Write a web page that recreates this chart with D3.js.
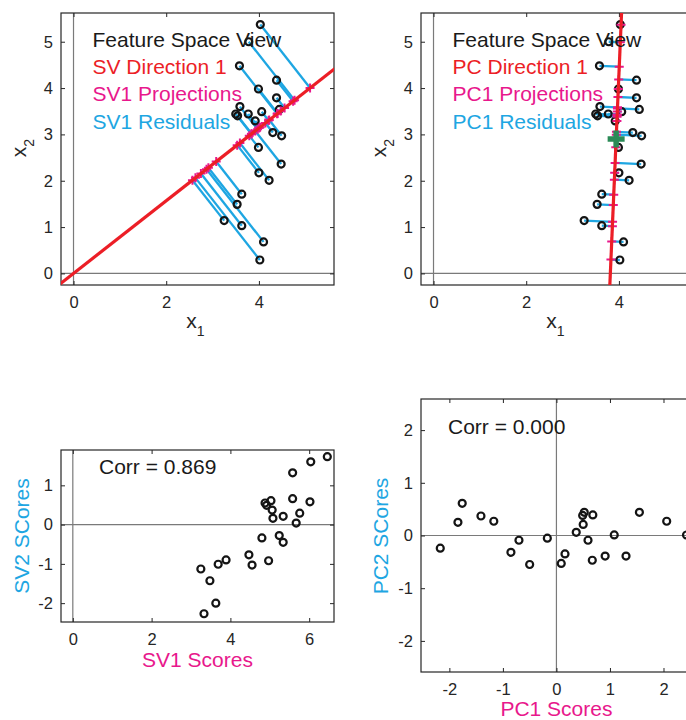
<!DOCTYPE html>
<html>
<head>
<meta charset="utf-8">
<script src="https://cdn.jsdelivr.net/npm/d3@7"></script>
<style>
  body { margin: 0; background: #fff; }
  svg { display: block; }
  text { font-family: "Liberation Sans", Arial, Helvetica, sans-serif; }
</style>
</head>
<body>
<svg id="fig" width="686" height="720"></svg>
<script>
// Observations in feature space
const featureX1 = [4.03, 3.78, 3.58, 4.38, 3.99, 4.38, 3.59, 3.50, 3.54, 3.77, 4.06, 3.92, 4.30,
                   4.49, 3.99, 4.48, 4.00, 4.22, 3.63, 3.53, 3.25, 3.63, 4.10, 4.02, 4.44];
const featureX2 = [5.37, 5.00, 4.48, 4.17, 3.98, 3.79, 3.60, 3.44, 3.40, 3.44, 3.49, 3.29, 3.04,
                   2.97, 2.72, 2.36, 2.17, 2.01, 1.71, 1.49, 1.14, 1.03, 0.68, 0.29, 3.54];

// First singular-vector direction (through the origin) and first PC direction (through the centre)
const svDirection1 = [0.787, 0.617];
const pcDirection1 = [0.043, 0.999];
const pcCentre = [3.94, 2.90];

// Scores on the first two directions
const sv1Scores = [6.46, 6.04, 5.58, 5.58, 6.02, 4.88, 4.92, 5.03, 5.06, 5.08, 5.34, 5.76, 5.67,
                   4.80, 5.24, 5.34, 4.47, 4.55, 4.97, 3.89, 3.69, 3.25, 3.48, 3.63, 3.33];
const sv2Scores = [1.73, 1.60, 1.32, 0.66, 0.58, 0.55, 0.49, 0.61, 0.37, 0.16, 0.21, 0.29, 0.04,
                   -0.34, -0.28, -0.45, -0.77, -1.03, -0.92, -0.90, -1.01, -1.13, -1.43, -2.00, -2.27];
const pc1Scores = [-2.17, -1.84, -1.76, -1.41, -1.17, -0.85, -0.70, -0.50, -0.17, 0.09, 0.16, 0.37,
                   0.49, 0.52, 0.50, 0.59, 0.68, 0.67, 0.91, 1.08, 1.30, 1.55, 2.06, 2.43];
const pc2Scores = [-0.24, 0.25, 0.61, 0.37, 0.27, -0.32, -0.09, -0.55, -0.05, -0.53, -0.35, 0.06,
                   0.38, 0.44, 0.21, -0.09, 0.39, -0.47, -0.39, 0.01, -0.39, 0.44, 0.27, 0.01];

const svCorr = "0.869";
const pcCorr = "0.000";

// Tick labels
const featureTicksX = [0, 2, 4];
const featureTicksY = [0, 1, 2, 3, 4, 5];
const svScoreTicksX = [0, 2, 4, 6];
const svScoreTicksY = [-2, -1, 0, 1];
const pcScoreTicks = [-2, -1, 0, 1, 2];

const legendSV = ["Feature Space View", "SV Direction 1", "SV1 Projections", "SV1 Residuals"];
const legendPC = ["Feature Space View", "PC Direction 1", "PC1 Projections", "PC1 Residuals"];

const COL = {
  ink: "#262626", zero: "#7a7a7a", red: "#ec1e26", magenta: "#e8188c",
  cyan: "#1ea6e2", green: "#2b8a57", dot: "#141414"
};
const FS = { tick: 16.5, title: 21, note: 21 };

const svg = d3.select("#fig");
svg.append("rect").attr("width", 686).attr("height", 720).attr("fill", "#fff");

let clipCount = 0;
function panel(box, xDom, yDom, xTicks, yTicks) {
  const x = d3.scaleLinear().domain(xDom).range([box.left, box.left + box.w]);
  const y = d3.scaleLinear().domain(yDom).range([box.top + box.h, box.top]);
  const g = svg.append("g");
  const id = "clip" + (clipCount++);
  svg.append("clipPath").attr("id", id).append("rect")
    .attr("x", box.left).attr("y", box.top).attr("width", box.w).attr("height", box.h);

  // zero reference lines
  if (xDom[0] < 0 && xDom[1] > 0)
    g.append("line").attr("x1", x(0)).attr("x2", x(0)).attr("y1", box.top).attr("y2", box.top + box.h)
      .attr("stroke", COL.zero).attr("stroke-width", 1.2);
  if (yDom[0] < 0 && yDom[1] > 0)
    g.append("line").attr("x1", box.left).attr("x2", box.left + box.w).attr("y1", y(0)).attr("y2", y(0))
      .attr("stroke", COL.zero).attr("stroke-width", 1.2);

  const fmt = d => String(d);
  const style = sel => {
    sel.select(".domain").remove();
    sel.attr("font-size", FS.tick).attr("font-family", null).style("color", COL.ink);
    sel.selectAll(".tick line").attr("stroke-width", 1);
  };
  g.append("g").attr("transform", `translate(0,${box.top + box.h})`)
    .call(d3.axisBottom(x).tickValues(xTicks).tickSize(-4).tickPadding(11).tickFormat(fmt)).call(style);
  g.append("g").attr("transform", `translate(0,${box.top})`)
    .call(d3.axisTop(x).tickValues(xTicks).tickSize(-4).tickFormat("")).call(style);
  g.append("g").attr("transform", `translate(${box.left},0)`)
    .call(d3.axisLeft(y).tickValues(yTicks).tickSize(-4).tickPadding(8).tickFormat(fmt)).call(style);
  g.append("g").attr("transform", `translate(${box.left + box.w},0)`)
    .call(d3.axisRight(y).tickValues(yTicks).tickSize(-4).tickFormat("")).call(style);

  g.append("rect").attr("x", box.left).attr("y", box.top).attr("width", box.w).attr("height", box.h)
    .attr("fill", "none").attr("stroke", COL.ink).attr("stroke-width", 1.2);

  const data = svg.append("g").attr("clip-path", `url(#${id})`);
  return { x, y, g, data };
}

function circles(layer, x, y, xs, ys) {
  layer.selectAll(null).data(xs.map((d, i) => [d, ys[i]])).enter().append("circle")
    .attr("cx", d => x(d[0])).attr("cy", d => y(d[1])).attr("r", 3.5)
    .attr("fill", "none").attr("stroke", COL.dot).attr("stroke-width", 2.2);
}

function featurePanel(box, origin, dir, legend, showCentre) {
  const p = panel(box, [-0.27, 5.62], [-0.25, 5.62], featureTicksX, featureTicksY);
  const { x, y, data } = p;
  const pts = featureX1.map((d, i) => [d, featureX2[i]]);
  // orthogonal projection of each observation onto the direction line
  const proj = pts.map(([a, b]) => {
    const t = (a - origin[0]) * dir[0] + (b - origin[1]) * dir[1];
    return [origin[0] + t * dir[0], origin[1] + t * dir[1]];
  });
  data.selectAll(null).data(pts).enter().append("line")
    .attr("x1", d => x(d[0])).attr("y1", d => y(d[1]))
    .attr("x2", (d, i) => x(proj[i][0])).attr("y2", (d, i) => y(proj[i][1]))
    .attr("stroke", COL.cyan).attr("stroke-width", 2.3);
  circles(data, x, y, featureX1, featureX2);
  data.selectAll(null).data(proj).enter().append("path")
    .attr("d", "M-4.5,0H4.5M0,-4.5V4.5")
    .attr("transform", d => `translate(${x(d[0])},${y(d[1])})`)
    .attr("stroke", COL.magenta).attr("stroke-width", 2).attr("fill", "none");
  const ends = [-20, 20].map(t => [origin[0] + t * dir[0], origin[1] + t * dir[1]]);
  data.append("line").attr("x1", x(ends[0][0])).attr("y1", y(ends[0][1]))
    .attr("x2", x(ends[1][0])).attr("y2", y(ends[1][1]))
    .attr("stroke", COL.red).attr("stroke-width", 3.2);
  if (showCentre) {
    data.append("path").attr("d", "M-8.5,0H8.5M0,-8.5V8.5")
      .attr("transform", `translate(${x(origin[0])},${y(origin[1])})`)
      .attr("stroke", COL.green).attr("stroke-width", 5.5).attr("fill", "none");
  }
  const cols = ["#1a1a1a", COL.red, COL.magenta, COL.cyan];
  legend.forEach((t, i) => {
    svg.append("text").attr("x", box.left + 31.5).attr("y", 47 + i * 27.2)
      .attr("font-size", FS.note).attr("fill", cols[i]).text(t);
  });
  // axis titles with subscripts
  const cx = box.left + box.w / 2 - 2;
  const tx = svg.append("text").attr("x", cx).attr("y", 328).attr("text-anchor", "middle")
    .attr("font-size", 21).attr("fill", COL.ink);
  tx.append("tspan").text("x");
  tx.append("tspan").attr("dy", 8).attr("font-size", 14).text("1");
  const ty = svg.append("text").attr("transform", `translate(${box.left - 35},148) rotate(-90)`)
    .attr("text-anchor", "middle").attr("font-size", 21).attr("fill", COL.ink);
  ty.append("tspan").text("x");
  ty.append("tspan").attr("dy", 8).attr("font-size", 14).text("2");
}

featurePanel({ left: 61, top: 13, w: 273, h: 272 }, [0, 0], svDirection1, legendSV, false);
featurePanel({ left: 421, top: 13, w: 273, h: 272 }, pcCentre, pcDirection1, legendPC, true);

// SV score scatter
{
  const box = { left: 61, top: 450, w: 273, h: 172 };
  const p = panel(box, [-0.30, 6.63], [-2.48, 1.90], svScoreTicksX, svScoreTicksY);
  circles(p.data, p.x, p.y, sv1Scores, sv2Scores);
  svg.append("text").attr("x", 99).attr("y", 474).attr("font-size", FS.note).attr("fill", "#1a1a1a")
    .text("Corr = " + svCorr);
  svg.append("text").attr("x", box.left + box.w / 2).attr("y", 667).attr("text-anchor", "middle")
    .attr("font-size", FS.title).attr("fill", COL.magenta).text("SV1 Scores");
  svg.append("text").attr("transform", `translate(29,536) rotate(-90)`).attr("text-anchor", "middle")
    .attr("font-size", FS.title).attr("fill", COL.cyan).text("SV2 SCores");
}

// PC score scatter
{
  const box = { left: 421, top: 399, w: 273, h: 273 };
  const p = panel(box, [-2.53, 2.57], [-2.59, 2.59], pcScoreTicks, pcScoreTicks);
  circles(p.data, p.x, p.y, pc1Scores, pc2Scores);
  svg.append("text").attr("x", 448).attr("y", 434).attr("font-size", FS.note).attr("fill", "#1a1a1a")
    .text("Corr = " + pcCorr);
  svg.append("text").attr("x", p.x(0)).attr("y", 716).attr("text-anchor", "middle")
    .attr("font-size", FS.title).attr("fill", COL.magenta).text("PC1 Scores");
  svg.append("text").attr("transform", `translate(388,536) rotate(-90)`).attr("text-anchor", "middle")
    .attr("font-size", FS.title).attr("fill", COL.cyan).text("PC2 SCores");
}
</script>
</body>
</html>
